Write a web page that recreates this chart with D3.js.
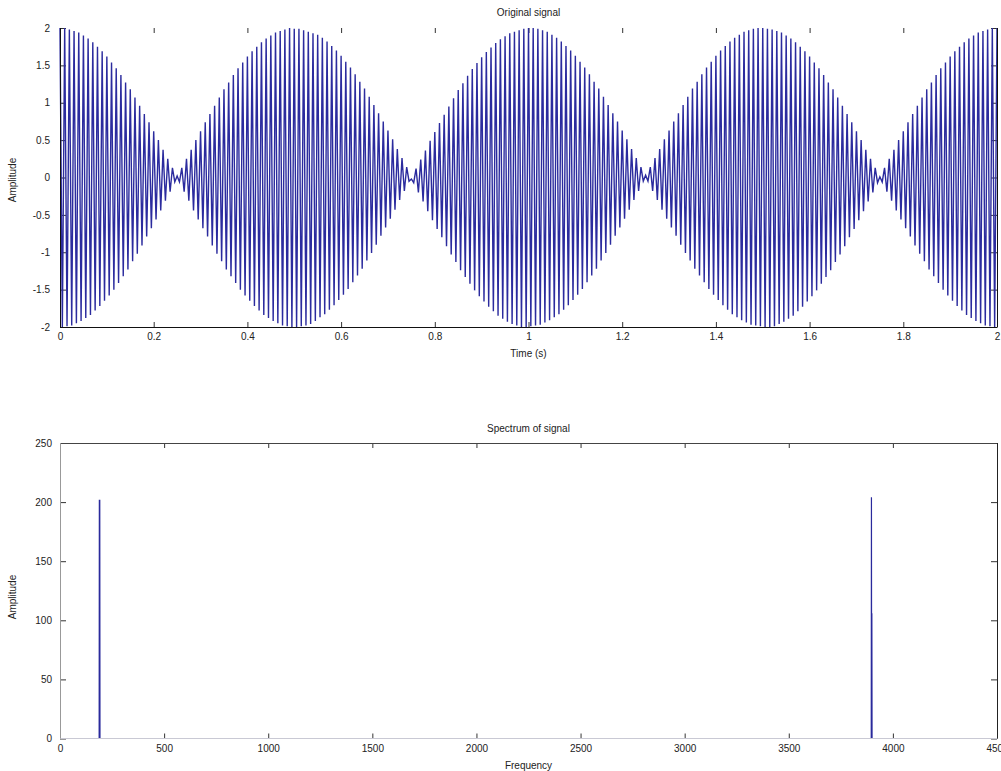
<!DOCTYPE html>
<html>
<head>
<meta charset="utf-8">
<script src="https://cdn.jsdelivr.net/npm/d3@7"></script>
<style>
body { margin: 0; background: #fff; }
svg text { font-family: "Liberation Sans", Arial, sans-serif; font-size: 10px; fill: #222; }
</style>
</head>
<body>
<svg id="chart" width="1001" height="771"></svg>
<script>

// top panel: sampled beat signal, one value every sampleStep seconds
var sampleStep = 0.005;
var signalAmp = [
    2.00, -2.00, 2.00, -1.99, 1.98, -1.98, 1.96, -1.95, 1.94, -1.92,
    1.90, -1.88, 1.86, -1.84, 1.81, -1.78, 1.75, -1.72, 1.69, -1.65,
    1.62, -1.58, 1.54, -1.50, 1.46, -1.41, 1.37, -1.32, 1.27, -1.23,
    1.18, -1.12, 1.07, -1.02, 0.96, -0.91, 0.85, -0.79, 0.74, -0.68,
    0.62, -0.56, 0.50, -0.44, 0.37, -0.31, 0.25, -0.19, 0.13, -0.06,
    0.02, -0.06, 0.13, -0.19, 0.25, -0.31, 0.37, -0.44, 0.50, -0.56,
    0.62, -0.68, 0.74, -0.79, 0.85, -0.91, 0.96, -1.02, 1.07, -1.12,
    1.18, -1.23, 1.27, -1.32, 1.37, -1.41, 1.46, -1.50, 1.54, -1.58,
    1.62, -1.65, 1.69, -1.72, 1.75, -1.78, 1.81, -1.84, 1.86, -1.88,
    1.90, -1.92, 1.94, -1.95, 1.96, -1.98, 1.98, -1.99, 2.00, -2.00,

    1.99, -2.00, 1.99, -1.99, 1.97, -1.98, 1.95, -1.96, 1.93, -1.92,
    1.91, -1.87, 1.87, -1.83, 1.82, -1.77, 1.76, -1.71, 1.70, -1.64,
    1.63, -1.57, 1.55, -1.49, 1.47, -1.40, 1.38, -1.31, 1.28, -1.22,
    1.19, -1.11, 1.08, -1.01, 0.97, -0.90, 0.86, -0.78, 0.75, -0.67,
    0.63, -0.55, 0.51, -0.43, 0.38, -0.30, 0.26, -0.18, 0.14, -0.05,
    -0.02, -0.07, 0.12, -0.20, 0.24, -0.32, 0.36, -0.45, 0.49, -0.57,
    0.61, -0.69, 0.73, -0.80, 0.84, -0.92, 0.95, -1.03, 1.06, -1.13,
    1.17, -1.24, 1.26, -1.33, 1.36, -1.42, 1.45, -1.51, 1.53, -1.59,
    1.61, -1.66, 1.68, -1.73, 1.74, -1.79, 1.80, -1.85, 1.85, -1.89,
    1.89, -1.93, 1.93, -1.96, 1.95, -1.98, 1.97, -2.00, 1.99, -2.00,

    2.00, -1.99, 2.00, -1.98, 1.99, -1.97, 1.97, -1.94, 1.95, -1.91,
    1.91, -1.87, 1.87, -1.83, 1.82, -1.77, 1.76, -1.71, 1.70, -1.64,
    1.63, -1.57, 1.55, -1.49, 1.47, -1.40, 1.38, -1.31, 1.28, -1.22,
    1.19, -1.11, 1.08, -1.01, 0.97, -0.90, 0.86, -0.78, 0.75, -0.67,
    0.63, -0.55, 0.51, -0.43, 0.38, -0.30, 0.26, -0.18, 0.14, -0.05,
    0.03, -0.05, 0.14, -0.18, 0.26, -0.30, 0.38, -0.43, 0.51, -0.55,
    0.63, -0.67, 0.75, -0.78, 0.86, -0.90, 0.97, -1.01, 1.08, -1.11,
    1.19, -1.22, 1.28, -1.31, 1.38, -1.40, 1.47, -1.49, 1.55, -1.57,
    1.63, -1.64, 1.70, -1.71, 1.76, -1.77, 1.82, -1.83, 1.87, -1.87,
    1.91, -1.91, 1.95, -1.94, 1.97, -1.97, 1.99, -1.98, 2.00, -1.99,

    2.00, -2.00, 1.99, -2.00, 1.98, -1.99, 1.96, -1.96, 1.94, -1.93,
    1.90, -1.89, 1.86, -1.85, 1.81, -1.79, 1.75, -1.73, 1.69, -1.66,
    1.62, -1.59, 1.54, -1.51, 1.46, -1.42, 1.37, -1.33, 1.27, -1.24,
    1.18, -1.13, 1.07, -1.03, 0.96, -0.92, 0.85, -0.80, 0.74, -0.69,
    0.62, -0.57, 0.50, -0.45, 0.37, -0.32, 0.25, -0.20, 0.13, -0.07,
    0.01, -0.06, 0.13, -0.19, 0.25, -0.31, 0.37, -0.44, 0.50, -0.56,
    0.62, -0.68, 0.74, -0.79, 0.85, -0.91, 0.96, -1.02, 1.07, -1.12,
    1.18, -1.23, 1.27, -1.32, 1.37, -1.41, 1.46, -1.50, 1.54, -1.58,
    1.62, -1.65, 1.69, -1.72, 1.75, -1.78, 1.81, -1.84, 1.86, -1.88,
    1.90, -1.92, 1.94, -1.95, 1.96, -1.98, 1.98, -1.99, 2.00, -2.00,

    2.00
];
var timeTicks = [0, 0.2, 0.4, 0.6, 0.8, 1, 1.2, 1.4, 1.6, 1.8, 2];
var ampTicks = [-2, -1.5, -1, -0.5, 0, 0.5, 1, 1.5, 2];

// bottom panel: magnitude spectrum
var specFreq = [0, 188, 189, 190, 191, 192, 3896, 3897, 3898, 3899, 3900, 4095];
var specMag = [0, 0, 202, 0, 202, 0, 0, 204, 0, 106, 0, 0];
var freqTicks = [0, 500, 1000, 1500, 2000, 2500, 3000, 3500, 4000, 4500];
var magTicks = [0, 50, 100, 150, 200, 250];

var svg = d3.select("#chart");
var left = 60, right = 997;

var fmt = function(d) { return String(d); };

function drawPanel(cfg) {

    var g = svg.append("g");
    var x = cfg.x, y = cfg.y;
    var top = y.range()[1], bottom = y.range()[0];

    var axB = g.append("g").attr("transform", "translate(0," + bottom + ")")
        .call(d3.axisBottom(x).tickValues(cfg.xTicks).tickSize(-5).tickPadding(6).tickFormat(fmt));
    var axL = g.append("g").attr("transform", "translate(" + left + ",0)")
        .call(d3.axisLeft(y).tickValues(cfg.yTicks).tickSize(-6).tickPadding(cfg.yPad).tickFormat(fmt));
    var axT = g.append("g").attr("transform", "translate(0," + top + ")")
        .call(d3.axisTop(x).tickValues(cfg.xTicks).tickSize(-5).tickFormat(""));
    var axR = g.append("g").attr("transform", "translate(" + right + ",0)")
        .call(d3.axisRight(y).tickValues(cfg.yTicks).tickSize(-6).tickFormat(""));

    [axB, axL, axT, axR].forEach(function(a) {
        a.select(".domain").remove();
        a.attr("font-family", null).attr("font-size", null);
        a.selectAll(".tick line").attr("stroke", "#333");
    });

    g.append("path").datum(cfg.data).attr("fill", "none")
        .attr("stroke", cfg.color).attr("stroke-width", cfg.width)
        .attr("stroke-linejoin", "miter").attr("d", cfg.line);

    // frame, drawn over the data
    cfg.frame.forEach(function(f) {
        g.append("line").attr("x1", f[0]).attr("y1", f[1]).attr("x2", f[2]).attr("y2", f[3])
            .attr("stroke", f[4]).attr("stroke-width", 1);
    });

    g.append("text").attr("x", (left + right) / 2).attr("y", cfg.titleY)
        .attr("text-anchor", "middle").text(cfg.title);
    g.append("text").attr("x", (left + right) / 2).attr("y", cfg.xLabelY)
        .attr("text-anchor", "middle").text(cfg.xLabel);
    g.append("text").attr("transform", "translate(16," + cfg.yLabelCy + ") rotate(-90)")
        .attr("text-anchor", "middle").text(cfg.yLabel);
}

var x1 = d3.scaleLinear().domain([0, 2]).range([left, right]);
var y1 = d3.scaleLinear().domain([-2, 2]).range([327, 28]);

drawPanel({
    x: x1, y: y1, xTicks: timeTicks, yTicks: ampTicks, yPad: 10,
    data: signalAmp, color: "#2b2b9e", width: 1.4,
    line: d3.line().x(function(d, i) { return x1(i * sampleStep); }).y(function(d) { return y1(d); }),
    frame: [
        [left, 327.5, right, 327.5, "#111"],
        [left + 0.5, 28, left + 0.5, 327.5, "#111"],
        [right + 0.5, 28, right + 0.5, 327.5, "#111"]
    ],
    title: "Original signal", titleY: 16,
    xLabel: "Time (s)", xLabelY: 357,
    yLabel: "Amplitude", yLabelCy: 180
});

var x2 = d3.scaleLinear().domain([0, 4500]).range([left, right]);
var y2 = d3.scaleLinear().domain([0, 250]).range([738.5, 443]);

drawPanel({
    x: x2, y: y2, xTicks: freqTicks, yTicks: magTicks, yPad: 8,
    data: d3.zip(specFreq, specMag), color: "#2a2a9c", width: 1.2,
    line: d3.line().x(function(d) { return x2(d[0]); }).y(function(d) { return y2(d[1]); }),
    frame: [
        [left, 443.5, right, 443.5, "#444"],
        [left, 738.5, right, 738.5, "#c9c9d4"],
        [left + 0.5, 443, left + 0.5, 738.5, "#999"],
        [right + 0.5, 443, right + 0.5, 738.5, "#222"]
    ],
    title: "Spectrum of signal", titleY: 432,
    xLabel: "Frequency", xLabelY: 769,
    yLabel: "Amplitude", yLabelCy: 597
});

</script>
</body>
</html>
